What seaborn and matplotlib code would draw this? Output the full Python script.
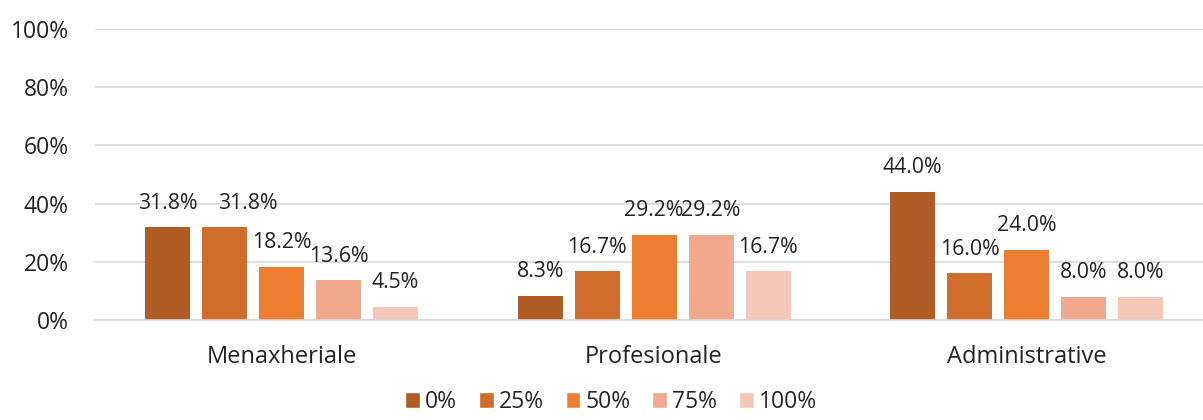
import pandas as pd
import seaborn as sns
import matplotlib.pyplot as plt
from matplotlib.ticker import PercentFormatter
from matplotlib.patches import Patch

categories = ["Menaxheriale", "Profesionale", "Administrative"]
levels = ["0%", "25%", "50%", "75%", "100%"]
values = {
    "0%": [31.8, 8.3, 44.0],
    "25%": [31.8, 16.7, 16.0],
    "50%": [18.2, 29.2, 24.0],
    "75%": [13.6, 29.2, 8.0],
    "100%": [4.5, 16.7, 8.0],
}
colors = ["#B05C24", "#D06C2C", "#ED7D31", "#F0A98C", "#F4C7B8"]

rows = []
for lvl in levels:
    for cat, v in zip(categories, values[lvl]):
        rows.append({"cat": cat, "level": lvl, "value": v})
df = pd.DataFrame(rows)

sns.set_style("white")
plt.rcParams["font.family"] = ["Open Sans", "DejaVu Sans"]

fig = plt.figure(figsize=(12.03, 4.2), dpi=100)
ax = fig.add_axes([0.0792, 0.238, 0.929, 0.693])

sns.barplot(data=df, x="cat", y="value", hue="level", hue_order=levels,
            order=categories, palette=colors, width=0.765, gap=0.21,
            saturation=1, linewidth=0, legend=False, ax=ax)

labels = []
for cont in ax.containers:
    labels.append(ax.bar_label(cont, fmt="%.1f%%", padding=10,
                               fontsize=15.3, color="#222222"))
# the second "31.8%" label sits a little to the right, like in the original
labels[1][0].xyann = (16.5, 10)

ax.set_ylim(0, 100)
ax.set_yticks(range(0, 101, 20))
ax.yaxis.set_major_formatter(PercentFormatter(decimals=0))
ax.grid(axis="y", color="#d9d9d9", linewidth=1.2)
ax.set_axisbelow(True)
for s in ["top", "right", "left"]:
    ax.spines[s].set_visible(False)
ax.spines["bottom"].set_color("#d9d9d9")
ax.spines["bottom"].set_linewidth(1.2)
ax.set_xlabel("")
ax.set_ylabel("")
ax.tick_params(axis="y", labelsize=16.5, length=0, pad=19, colors="#222222")
ax.tick_params(axis="x", labelsize=17, length=0, pad=18, colors="#222222")

handles = [Patch(facecolor=c, label=l) for c, l in zip(colors, levels)]
fig.legend(handles=handles, loc="lower center", ncol=5, frameon=False,
           fontsize=16.5, bbox_to_anchor=(0.508, -0.035), handlelength=0.65,
           handleheight=0.65, handletextpad=0.22, columnspacing=0.95)

fig.savefig("out.png", dpi=100)
